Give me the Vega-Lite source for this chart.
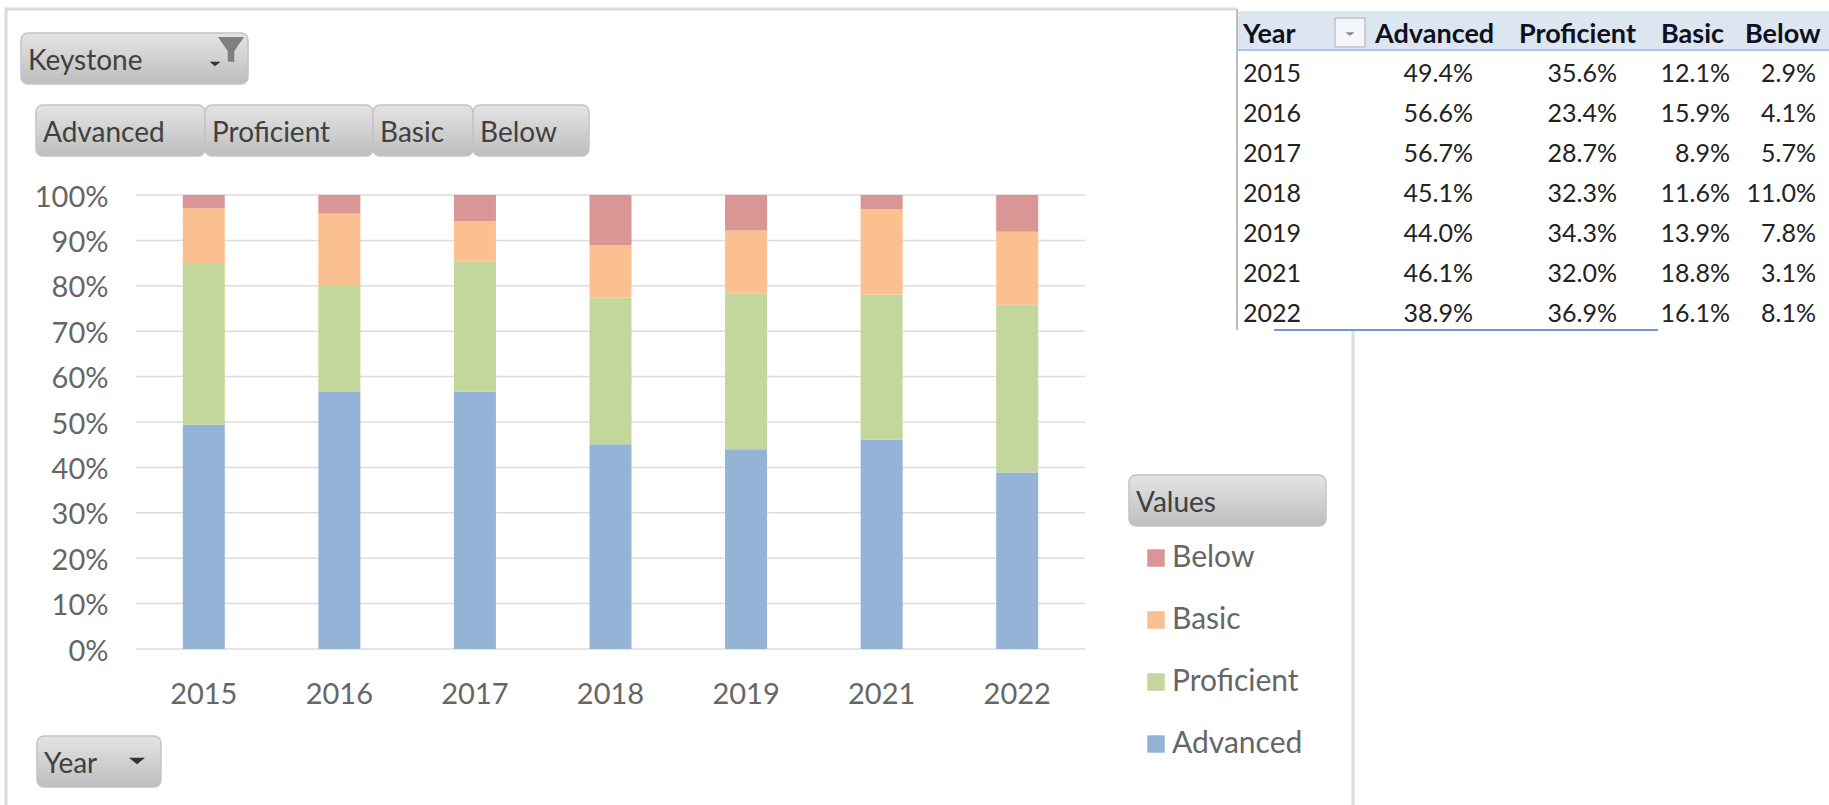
{
"$schema":"https://vega.github.io/schema/vega-lite/v6.json",
"width":1829,"height":805,"padding":0,"autosize":{"type":"none"},"background":"#ffffff",
"config":{"view":{"stroke":null},"text":{"font":"Lato"},"axis":{"labelFont":"Lato"}},
"datasets":{
"scores":[
{"Year":"2015","level":"Advanced","col":1,"share":0.494},{"Year":"2015","level":"Proficient","col":2,"share":0.356},{"Year":"2015","level":"Basic","col":3,"share":0.121},{"Year":"2015","level":"Below","col":4,"share":0.029},
{"Year":"2016","level":"Advanced","col":1,"share":0.566},{"Year":"2016","level":"Proficient","col":2,"share":0.234},{"Year":"2016","level":"Basic","col":3,"share":0.159},{"Year":"2016","level":"Below","col":4,"share":0.041},
{"Year":"2017","level":"Advanced","col":1,"share":0.567},{"Year":"2017","level":"Proficient","col":2,"share":0.287},{"Year":"2017","level":"Basic","col":3,"share":0.089},{"Year":"2017","level":"Below","col":4,"share":0.057},
{"Year":"2018","level":"Advanced","col":1,"share":0.451},{"Year":"2018","level":"Proficient","col":2,"share":0.323},{"Year":"2018","level":"Basic","col":3,"share":0.116},{"Year":"2018","level":"Below","col":4,"share":0.110},
{"Year":"2019","level":"Advanced","col":1,"share":0.440},{"Year":"2019","level":"Proficient","col":2,"share":0.343},{"Year":"2019","level":"Basic","col":3,"share":0.139},{"Year":"2019","level":"Below","col":4,"share":0.078},
{"Year":"2021","level":"Advanced","col":1,"share":0.461},{"Year":"2021","level":"Proficient","col":2,"share":0.320},{"Year":"2021","level":"Basic","col":3,"share":0.188},{"Year":"2021","level":"Below","col":4,"share":0.031},
{"Year":"2022","level":"Advanced","col":1,"share":0.389},{"Year":"2022","level":"Proficient","col":2,"share":0.369},{"Year":"2022","level":"Basic","col":3,"share":0.161},{"Year":"2022","level":"Below","col":4,"share":0.081}
],
"ticks":[{"tick":0},{"tick":0.1},{"tick":0.2},{"tick":0.3},{"tick":0.4},{"tick":0.5},{"tick":0.6},{"tick":0.7},{"tick":0.8},{"tick":0.9},{"tick":1}],
"headers":[{"label":"Year","col":0},{"label":"Advanced","col":1},{"label":"Proficient","col":2},{"label":"Basic","col":3},{"label":"Below","col":4}],
"buttons":[
{"label":"Keystone","l":0,"r":1,"t":0,"b":1},
{"label":"Advanced","l":2,"r":3,"t":2,"b":3},
{"label":"Proficient","l":3,"r":4,"t":2,"b":3},
{"label":"Basic","l":4,"r":5,"t":2,"b":3},
{"label":"Below","l":5,"r":6,"t":2,"b":3},
{"label":"Values","l":7,"r":8,"t":4,"b":5},
{"label":"Year","l":9,"r":10,"t":6,"b":7}
],
"glyphs":[
{"glyph":"Keystone menu","pos":0,"kind":"medium arrow"},
{"glyph":"Keystone filter","pos":1,"kind":"funnel"},
{"glyph":"Year menu","pos":2,"kind":"large arrow"},
{"glyph":"Table filter","pos":3,"kind":"small arrow"}
]
},
"resolve":{"scale":{"x":"independent","y":"independent","color":"independent"},"axis":{"x":"independent","y":"independent"}},
"layer":[
{"data":{"values":[{"box":"frame"}]},
 "mark":{"type":"rect","fillOpacity":0,"stroke":"#dcdcdc","strokeWidth":3},
 "encoding":{"x":{"datum":0,"type":"quantitative","scale":{"domain":[0,1],"range":[6,1353]},"axis":null},"x2":{"datum":1},
 "y":{"datum":0,"type":"quantitative","scale":{"domain":[0,1],"range":[9,830]},"axis":null},"y2":{"datum":1}}},
{"data":{"values":[{"box":"table panel"}]},
 "mark":{"type":"rect","fill":"#ffffff"},
 "encoding":{"x":{"datum":0,"type":"quantitative","scale":{"domain":[0,1],"range":[1237,1829]},"axis":null},"x2":{"datum":1},
 "y":{"datum":0,"type":"quantitative","scale":{"domain":[0,1],"range":[0,330]},"axis":null},"y2":{"datum":1}}},
{"data":{"values":[{"box":"table header"}]},
 "mark":{"type":"rect","fill":"#dce6f1"},
 "encoding":{"x":{"datum":0,"type":"quantitative","scale":{"domain":[0,1],"range":[1237,1829]},"axis":null},"x2":{"datum":1},
 "y":{"datum":0,"type":"quantitative","scale":{"domain":[0,1],"range":[11,49]},"axis":null},"y2":{"datum":1}}},
{"data":{"values":[{"box":"header underline"}]},
 "mark":{"type":"rect","fill":"#a9c4e4"},
 "encoding":{"x":{"datum":0,"type":"quantitative","scale":{"domain":[0,1],"range":[1237,1829]},"axis":null},"x2":{"datum":1},
 "y":{"datum":0,"type":"quantitative","scale":{"domain":[0,1],"range":[49,51]},"axis":null},"y2":{"datum":1}}},
{"data":{"values":[{"box":"table left edge"}]},
 "mark":{"type":"rect","fill":"#bdbdbd"},
 "encoding":{"x":{"datum":0,"type":"quantitative","scale":{"domain":[0,1],"range":[1236,1238]},"axis":null},"x2":{"datum":1},
 "y":{"datum":0,"type":"quantitative","scale":{"domain":[0,1],"range":[9,330]},"axis":null},"y2":{"datum":1}}},
{"data":{"values":[{"box":"table underline"}]},
 "mark":{"type":"rect","fill":"#6f9ccf"},
 "encoding":{"x":{"datum":0,"type":"quantitative","scale":{"domain":[0,1],"range":[1274,1658]},"axis":null},"x2":{"datum":1},
 "y":{"datum":0,"type":"quantitative","scale":{"domain":[0,1],"range":[329,331]},"axis":null},"y2":{"datum":1}}},
{"data":{"values":[{"box":"filter box"}]},
 "mark":{"type":"rect","fill":"#f4f6f9","stroke":"#bfc3c8","strokeWidth":1.5},
 "encoding":{"x":{"datum":0,"type":"quantitative","scale":{"domain":[0,1],"range":[1335,1365]},"axis":null},"x2":{"datum":1},
 "y":{"datum":0,"type":"quantitative","scale":{"domain":[0,1],"range":[18,47]},"axis":null},"y2":{"datum":1}}},
{"data":{"name":"ticks"},
 "mark":{"type":"rule","color":"#dcdcdc","strokeWidth":1.5},
 "encoding":{"x":{"datum":0,"type":"quantitative","scale":{"domain":[0,1],"range":[136,1085]},"axis":null},"x2":{"datum":1},
 "y":{"field":"tick","type":"quantitative","scale":{"domain":[0,1],"range":[649,195]},
  "axis":{"orient":"left","offset":-108,"values":[0,0.1,0.2,0.3,0.4,0.5,0.6,0.7,0.8,0.9,1],"format":".0%","title":null,"domain":false,"ticks":false,"grid":false,"labelPadding":0,"labelOffset":2,"labelFontSize":29,"labelColor":"#666666","labelFont":"Lato"}}}},
{"data":{"name":"scores"},
 "mark":{"type":"bar","width":42},
 "encoding":{
  "x":{"field":"Year","type":"ordinal","scale":{"type":"band","domain":["2015","2016","2017","2018","2019","2021","2022"],"range":[136,1085]},
   "axis":{"orient":"bottom","offset":-125,"title":null,"domain":false,"ticks":false,"grid":false,"labelAngle":0,"labelPadding":0,"labelFontSize":29,"labelColor":"#666666","labelFont":"Lato"}},
  "y":{"field":"share","type":"quantitative","stack":"zero","scale":{"domain":[0,1],"range":[649,195]},"axis":null},
  "order":{"field":"col","type":"quantitative","sort":"ascending"},
  "color":{"field":"level","type":"nominal","scale":{"domain":["Below","Basic","Proficient","Advanced"],"range":["#d99694","#fac090","#c3d69b","#95b3d7"]},
   "legend":{"orient":"none","legendX":1141,"legendY":543,"title":null,"padding":0,"symbolType":"square","symbolSize":306,"symbolStrokeWidth":0,"symbolOpacity":1,"labelFont":"Lato","labelFontSize":30,"labelColor":"#666666","labelOffset":1,"rowPadding":32}}
 }},
{"data":{"name":"buttons"},
 "mark":{"type":"rect","cornerRadius":7,"stroke":"#c4c4c4","strokeWidth":1.5,"fill":{"gradient":"linear","x1":0,"y1":0,"x2":0,"y2":1,"stops":[{"offset":0,"color":"#e4e4e4"},{"offset":1,"color":"#bebebe"}]}},
 "encoding":{
  "x":{"field":"l","type":"quantitative","scale":{"domain":[0,1,2,3,4,5,6,7,8,9,10],"range":[21,248,36,205,373,473,589,1129,1326,37,161],"zero":false,"nice":false},"axis":null},
  "x2":{"field":"r"},
  "y":{"field":"t","type":"quantitative","scale":{"domain":[0,1,2,3,4,5,6,7],"range":[33,84,105,156,475,526,736,787],"zero":false,"nice":false},"axis":null},
  "y2":{"field":"b"}
 }},
{"data":{"name":"buttons"},
 "mark":{"type":"text","align":"left","baseline":"middle","dx":7,"dy":29,"font":"Lato","fontSize":28,"fill":"#404040"},
 "encoding":{
  "x":{"field":"l","type":"quantitative","scale":{"domain":[0,1,2,3,4,5,6,7,8,9,10],"range":[21,248,36,205,373,473,589,1129,1326,37,161],"zero":false,"nice":false},"axis":null},
  "y":{"field":"t","type":"quantitative","scale":{"domain":[0,1,2,3,4,5,6,7],"range":[33,84,105,156,475,526,736,787],"zero":false,"nice":false},"axis":null},
  "text":{"field":"label"}
 }},
{"data":{"name":"glyphs"},
 "mark":{"type":"point","filled":true,"opacity":1,"size":676},
 "encoding":{
  "x":{"field":"pos","type":"quantitative","scale":{"domain":[0,1,2,3],"range":[215,231,137,1350],"zero":false,"nice":false},"axis":null},
  "y":{"field":"pos","type":"quantitative","scale":{"domain":[0,1,2,3],"range":[64,50,761,34],"zero":false,"nice":false},"axis":null},
  "shape":{"field":"kind","type":"nominal","scale":{"domain":["small arrow","medium arrow","large arrow","funnel"],"range":["M-0.35,-0.14L0.35,-0.14L0,0.14Z","M-0.42,-0.17L0.42,-0.17L0,0.17Z","M-0.62,-0.25L0.62,-0.25L0,0.25Z","M-1,-1L1,-1L0.25,0.1L0.25,0.9L-0.25,0.9L-0.25,0.1Z"]},"legend":null},
  "color":{"field":"kind","type":"nominal","scale":{"domain":["small arrow","medium arrow","large arrow","funnel"],"range":["#888888","#333333","#333333","#7f7f7f"]},"legend":null}
 }},
{"data":{"name":"headers"},
 "mark":{"type":"text","align":"left","baseline":"middle","font":"Lato","fontWeight":"bold","fontSize":27,"fill":"#10101c"},
 "encoding":{
  "x":{"field":"col","type":"quantitative","scale":{"domain":[0,1,2,3,4],"range":[1243,1375,1519,1661,1745],"zero":false,"nice":false},"axis":null},
  "y":{"datum":0,"type":"quantitative","scale":{"domain":[0,1],"range":[35,60]},"axis":null},
  "text":{"field":"label"}
 }},
{"data":{"name":"scores"},
 "transform":[{"filter":"datum.level === 'Advanced'"}],
 "mark":{"type":"text","align":"left","baseline":"middle","font":"Lato","fontSize":25,"fill":"#222222"},
 "encoding":{
  "x":{"datum":0,"type":"quantitative","scale":{"domain":[0,1],"range":[1243,1300]},"axis":null},
  "y":{"field":"Year","type":"ordinal","scale":{"type":"point","padding":0,"domain":["2015","2016","2017","2018","2019","2021","2022"],"range":[74,314]},"axis":null},
  "text":{"field":"Year"}
 }},
{"data":{"name":"scores"},
 "mark":{"type":"text","align":"right","baseline":"middle","font":"Lato","fontSize":25,"fill":"#222222"},
 "encoding":{
  "x":{"field":"col","type":"quantitative","scale":{"domain":[1,2,3,4],"range":[1473,1617,1730,1816],"zero":false,"nice":false},"axis":null},
  "y":{"field":"Year","type":"ordinal","scale":{"type":"point","padding":0,"domain":["2015","2016","2017","2018","2019","2021","2022"],"range":[74,314]},"axis":null},
  "text":{"field":"share","format":".1%"}
 }}
]
}
